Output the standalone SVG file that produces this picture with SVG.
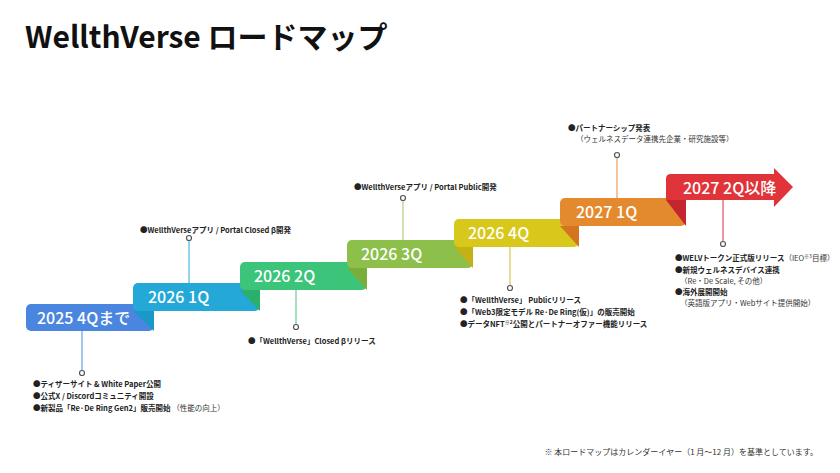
<svg xmlns="http://www.w3.org/2000/svg" width="840" height="473" viewBox="0 0 840 473">
<style>
text{font-family:"Noto Sans CJK JP","Noto Sans",sans-serif}
.t{font-size:30px;font-weight:700;fill:#111}
.lb{font-size:16px;font-weight:500;fill:#fff}
.it{font-size:7.5px;font-weight:700;fill:#222}
.sub{font-size:7.5px;font-weight:400;fill:#333}
.fn{font-size:8px;fill:#333}
circle{fill:#fff;stroke-width:1.2}
</style>
<rect width="840" height="473" fill="#fff"/>
<text class="t" x="25" y="48">WellthVerse ロードマップ</text>
<g id="connectors" stroke-width="1.2">
<line x1="82" y1="331" x2="82" y2="370" stroke="#6a9de6"/><circle cx="82" cy="373" r="2.5" stroke="#555"/>
<line x1="189" y1="283" x2="189" y2="241" stroke="#4ab6e0"/><circle cx="189" cy="238" r="2.5" stroke="#555"/>
<line x1="296" y1="290" x2="296" y2="324" stroke="#6cc898"/><circle cx="296" cy="327" r="2.5" stroke="#555"/>
<line x1="403" y1="240" x2="403" y2="201" stroke="#b0cc80"/><circle cx="403" cy="198" r="2.5" stroke="#555"/>
<line x1="510" y1="247" x2="510" y2="285" stroke="#d8c850"/><circle cx="510" cy="288" r="2.5" stroke="#555"/>
<line x1="617" y1="198" x2="617" y2="158" stroke="#e8a060"/><circle cx="617" cy="155" r="2.5" stroke="#555"/>
<line x1="723" y1="200" x2="723" y2="241" stroke="#e05060"/><circle cx="723" cy="244" r="2.5" stroke="#555"/>
</g>
<g id="n1"><rect x="26" y="304" width="128" height="27" rx="5" fill="#4a86e0"/><polygon points="133,311 154,311 154,331" fill="#1a98c8"/><text class="lb" x="37" y="324">2025 4Qまで</text>
<text class="it" x="33" y="387">●ティザーサイト &amp; White Paper公開</text>
<text class="it" x="33" y="399">●公式X / Discordコミュニティ開設</text>
<text class="it" x="33" y="411">●新製品「Re·De Ring Gen2」販売開始 <tspan class="sub">（性能の向上）</tspan></text></g>
<g id="n2"><rect x="133" y="283" width="127" height="28" rx="5" fill="#23a8d8"/><polygon points="240,290 260,290 260,311" fill="#2ab068"/><text class="lb" x="148" y="303">2026 1Q</text>
<text class="it" x="140" y="233">●WellthVerseアプリ / Portal Closed β開発</text></g>
<g id="n3"><rect x="240" y="262" width="127" height="28" rx="5" fill="#3cc47a"/><polygon points="347,268 367,268 367,290" fill="#7aae3a"/><text class="lb" x="254" y="282">2026 2Q</text>
<text class="it" x="248" y="344">●「WellthVerse」Closed βリリース</text></g>
<g id="n4"><rect x="347" y="240" width="126" height="28" rx="5" fill="#8cc04a"/><polygon points="454,247 473,247 473,268" fill="#c4b214"/><text class="lb" x="361" y="260">2026 3Q</text>
<text class="it" x="354" y="190">●WellthVerseアプリ / Portal Public開発</text></g>
<g id="n5"><rect x="454" y="219" width="125" height="28" rx="5" fill="#d8c81c"/><polygon points="560,226 579,226 579,247" fill="#d47420"/><text class="lb" x="468" y="239">2026 4Q</text>
<text class="it" x="460" y="303">●「WellthVerse」 Publicリリース</text>
<text class="it" x="460" y="315">●「Web3限定モデル Re·De Ring(仮)」の販売開始</text>
<text class="it" x="460" y="327">●データNFT<tspan font-size="5" dy="-3">※2</tspan><tspan dy="3">公開とパートナーオファー機能リリース</tspan></text></g>
<g id="n6"><rect x="560" y="198" width="126" height="28" rx="5" fill="#e38a2e"/><polygon points="666,200 686,200 686,226" fill="#c42630"/><text class="lb" x="576" y="218">2027 1Q</text>
<text class="it" x="568" y="131">●パートナーシップ発表</text>
<text class="sub" x="576" y="142">（ウェルネスデータ連携先企業・研究施設等）</text></g>
<g id="n7"><path d="M671 174 H774 V168 L793 187 L774 207 V200 H666 V179 Q666 174 671 174 Z" fill="#e0333a"/><text class="lb" x="683" y="194">2027 2Q以降</text>
<text class="it" x="675" y="261">●WELVトークン正式版リリース<tspan class="sub">（IEO<tspan font-size="5" dy="-3">※3</tspan><tspan dy="3">目標）</tspan></tspan></text>
<text class="it" x="675" y="273">●新規ウェルネスデバイス連携</text>
<text class="sub" x="680" y="284">（Re・De Scale, その他）</text>
<text class="it" x="675" y="295">●海外展開開始</text>
<text class="sub" x="680" y="306">（英語版アプリ・Webサイト提供開始）</text></g>
<text class="fn" x="818" y="455" text-anchor="end">※ 本ロードマップはカレンダーイヤー（1 月〜12 月）を基準としています。</text>
</svg>
